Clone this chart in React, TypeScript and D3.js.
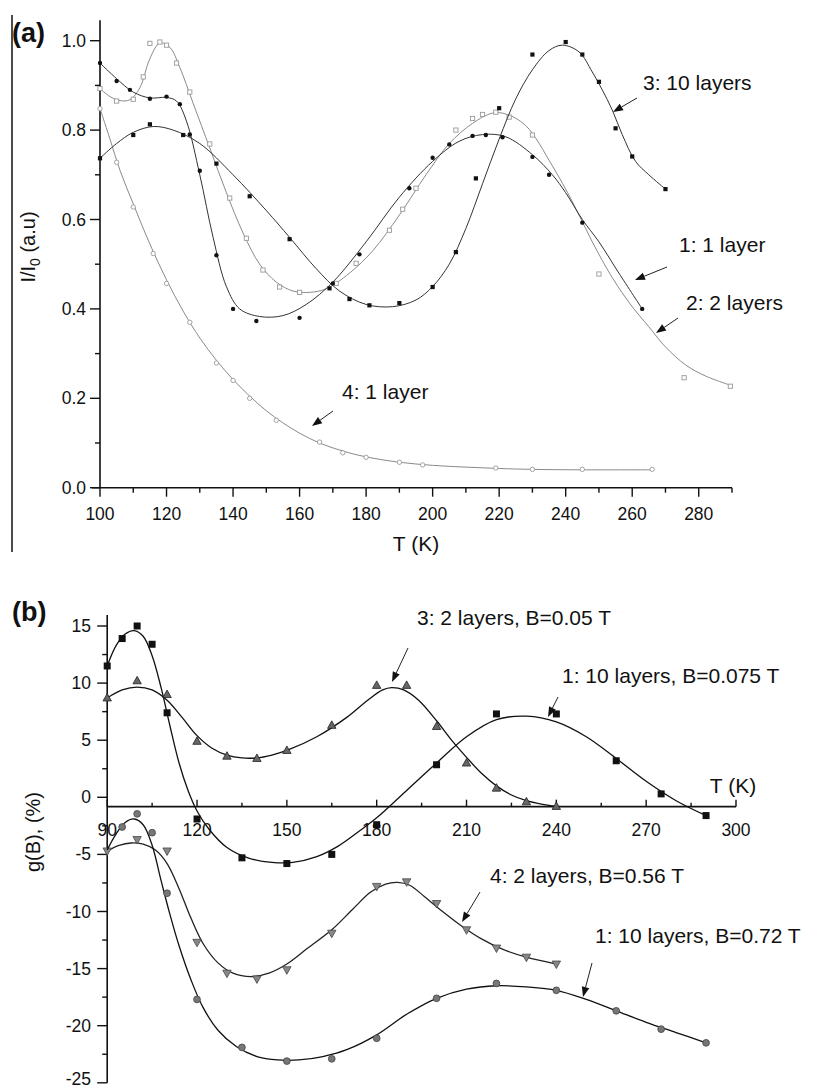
import * as d3 from 'd3'

// ---------------- panel (a) data: [T (K), I/I0] ----------------
const a1Points = [[100, 0.95], [105, 0.91], [109, 0.89], [115, 0.87], [120, 0.875], [124, 0.858], [127, 0.79], [130, 0.709], [135, 0.52], [140, 0.40], [147, 0.373], [160, 0.38], [170, 0.457], [178, 0.522], [193, 0.67], [200, 0.738], [205, 0.768], [212, 0.787], [216, 0.789], [221, 0.784], [230, 0.74], [235, 0.70], [245, 0.593], [263, 0.40]]
const a1Fit = [[100, 0.95], [105, 0.915], [110, 0.885], [115, 0.872], [120, 0.873], [123, 0.865], [126, 0.82], [130, 0.70], [134, 0.56], [138, 0.45], [142, 0.40], [148, 0.383], [155, 0.385], [162, 0.41], [170, 0.46], [180, 0.55], [190, 0.65], [200, 0.73], [208, 0.775], [215, 0.79], [222, 0.785], [230, 0.745], [236, 0.70], [240, 0.66], [245, 0.60], [250, 0.55], [256, 0.48], [263, 0.40]]

const a2Points = [[100, 0.893], [105, 0.865], [110, 0.869], [113, 0.919], [115, 0.994], [118, 0.997], [120, 0.99], [123, 0.95], [127, 0.885], [133, 0.769], [139, 0.648], [144, 0.558], [149, 0.487], [154, 0.449], [160, 0.437], [171, 0.457], [177, 0.502], [187, 0.576], [191, 0.623], [195, 0.67], [207, 0.80], [212, 0.826], [215, 0.835], [219, 0.84], [223, 0.829], [230, 0.789], [250, 0.478], [275.6, 0.246], [289.5, 0.227]]
const a2Fit = [[100, 0.893], [103, 0.875], [106, 0.866], [109, 0.868], [112, 0.895], [115, 0.96], [118, 0.995], [121, 0.985], [124, 0.94], [128, 0.86], [133, 0.76], [138, 0.66], [143, 0.57], [148, 0.50], [153, 0.46], [158, 0.44], [163, 0.437], [168, 0.445], [175, 0.48], [182, 0.53], [190, 0.61], [198, 0.70], [205, 0.77], [212, 0.815], [218, 0.838], [222, 0.836], [228, 0.81], [236, 0.72], [242, 0.64], [248, 0.55], [254, 0.47], [260, 0.405], [265, 0.36], [270, 0.315], [276, 0.275], [282, 0.25], [290, 0.228]]

const a3Points = [[100, 0.737], [110, 0.789], [115, 0.813], [125, 0.789], [135, 0.725], [145, 0.652], [157, 0.556], [169, 0.446], [175, 0.422], [181, 0.408], [190, 0.413], [200, 0.449], [207, 0.527], [213, 0.692], [220, 0.849], [230, 0.969], [240, 0.997], [245, 0.969], [250, 0.908], [255, 0.804], [260, 0.741], [270, 0.668]]
const a3Fit = [[100, 0.737], [105, 0.77], [110, 0.795], [116, 0.808], [122, 0.80], [130, 0.77], [140, 0.70], [150, 0.62], [157, 0.56], [165, 0.49], [172, 0.44], [180, 0.41], [188, 0.405], [195, 0.42], [200, 0.45], [205, 0.50], [210, 0.58], [215, 0.68], [220, 0.78], [225, 0.87], [230, 0.935], [235, 0.978], [239, 0.99], [244, 0.975], [248, 0.93], [251, 0.89], [254, 0.845], [257, 0.79], [261, 0.73], [265, 0.70], [270, 0.668]]

const a4Points = [[100, 0.848], [105, 0.728], [110, 0.628], [116, 0.524], [120, 0.457], [127, 0.370], [135, 0.279], [140, 0.240], [145, 0.200], [153, 0.151], [166, 0.102], [173, 0.078], [180, 0.068], [190, 0.057], [197, 0.051], [219, 0.044], [230, 0.041], [245, 0.041], [266, 0.041]]
const a4Fit = [[100, 0.848], [103, 0.78], [106, 0.71], [110, 0.635], [115, 0.545], [120, 0.465], [125, 0.395], [130, 0.335], [135, 0.285], [140, 0.242], [145, 0.205], [150, 0.172], [155, 0.145], [160, 0.122], [166, 0.10], [173, 0.082], [180, 0.069], [190, 0.057], [200, 0.05], [210, 0.046], [220, 0.043], [230, 0.041], [245, 0.040], [266, 0.040]]

const aYTicks = [0, 0.2, 0.4, 0.6, 0.8, 1.0]
const aYMinor = [0.1, 0.3, 0.5, 0.7, 0.9]
const aXTicks = [100, 120, 140, 160, 180, 200, 220, 240, 260, 280]
const aXMinor = [110, 130, 150, 170, 190, 210, 230, 250, 270, 290]

// ---------------- panel (b) data: [T (K), g(B) %] ----------------
const b1Points = [[90, 11.5], [95, 13.9], [100, 15.0], [105, 13.4], [110, 7.4], [120, -1.9], [135, -5.3], [150, -5.8], [165, -5.0], [180, -2.4], [200, 2.85], [220, 7.3], [240, 7.3], [260, 3.2], [275, 0.3], [290, -1.6]]
const b1Fit = [[90, 11.5], [93, 13.3], [96, 14.3], [99, 14.6], [102, 14.1], [105, 12.4], [108, 9.6], [111, 6.2], [114, 3.0], [117, 0.6], [120, -1.2], [124, -2.8], [130, -4.4], [137, -5.3], [145, -5.7], [152, -5.7], [160, -5.2], [167, -4.3], [174, -3.0], [180, -1.8], [190, 0.6], [200, 3.0], [210, 5.3], [220, 6.8], [230, 7.1], [240, 6.6], [250, 5.3], [260, 3.4], [270, 1.4], [280, -0.3], [290, -1.6]]

const b3Points = [[90, 8.7], [100, 10.2], [110, 9.0], [120, 4.9], [130, 3.6], [140, 3.4], [150, 4.1], [165, 6.3], [180, 9.8], [190, 9.8], [200, 6.2], [210, 3.0], [220, 0.8], [230, -0.4], [240, -0.8]]
const b3Fit = [[90, 8.7], [95, 9.4], [100, 9.65], [105, 9.4], [110, 8.5], [115, 7.0], [120, 5.4], [125, 4.3], [130, 3.7], [135, 3.45], [140, 3.45], [145, 3.7], [150, 4.1], [160, 5.3], [170, 7.0], [177, 8.5], [182, 9.4], [185, 9.6], [189, 9.4], [194, 8.5], [200, 6.7], [205, 5.0], [210, 3.5], [215, 2.1], [220, 1.0], [225, 0.2], [230, -0.3], [235, -0.6], [240, -0.8]]

const b4Points = [[90, -4.7], [100, -3.7], [110, -4.7], [120, -12.7], [130, -15.4], [140, -15.9], [150, -15.1], [165, -11.9], [180, -7.8], [190, -7.4], [200, -9.3], [210, -11.6], [220, -13.2], [230, -14.0], [240, -14.6]]
const b4Fit = [[90, -4.7], [94, -4.2], [98, -4.0], [102, -4.1], [106, -4.6], [110, -5.8], [114, -8.0], [118, -10.6], [122, -12.8], [127, -14.5], [132, -15.4], [138, -15.7], [144, -15.4], [150, -14.6], [157, -13.2], [165, -11.6], [172, -9.8], [178, -8.3], [183, -7.6], [187, -7.45], [191, -7.7], [196, -8.7], [202, -10.0], [208, -11.2], [215, -12.4], [222, -13.3], [230, -14.0], [240, -14.6]]

const b5Points = [[95, -2.6], [100, -1.45], [105, -3.1], [110, -8.4], [120, -17.7], [135, -21.9], [150, -23.1], [165, -22.9], [180, -21.1], [200, -17.6], [220, -16.3], [240, -16.9], [260, -18.7], [275, -20.3], [290, -21.5]]
const b5Fit = [[90, -4.6], [93, -3.2], [96, -2.2], [99, -1.9], [102, -2.4], [105, -4.2], [108, -7.3], [111, -10.3], [114, -13.0], [118, -16.0], [122, -18.4], [127, -20.4], [133, -21.8], [140, -22.7], [147, -23.0], [154, -23.0], [162, -22.7], [170, -22.1], [180, -20.8], [190, -19.0], [200, -17.6], [210, -16.8], [220, -16.5], [230, -16.6], [240, -16.9], [250, -17.7], [260, -18.7], [270, -19.7], [280, -20.6], [290, -21.5]]

const bYTicks = [15, 10, 5, 0, -5, -10, -15, -20, -25]
const bYMinor = [12.5, 7.5, 2.5, -2.5, -7.5, -12.5, -17.5, -22.5]
const bXTicks = [90, 120, 150, 180, 210, 240, 270, 300]
const bXMinor = [105, 135, 165, 195, 225, 255, 285]

const FONT = "'Liberation Sans', Arial, Helvetica, sans-serif"

const xA = d3.scaleLinear().domain([100, 290]).range([100, 732])
const yA = d3.scaleLinear().domain([0, 1]).range([487.7, 40.7])
const xB = d3.scaleLinear().domain([90, 300]).range([107.2, 736])
const yB = d3.scaleLinear().domain([0, 15]).range([797.3, 626])

const lineGen = (x, y) => d3.line().x(d => x(d[0])).y(d => y(d[1])).curve(d3.curveCatmullRom.alpha(0.5))

const Arrow = ({ x1, y1, x2, y2 }) => {
    const ang = Math.atan2(y2 - y1, x2 - x1)
    const L = 10, W = 3.8
    const bx = x2 - L * Math.cos(ang), by = y2 - L * Math.sin(ang)
    const px = -Math.sin(ang) * W, py = Math.cos(ang) * W
    return <g>
        <line x1={x1} y1={y1} x2={bx} y2={by} stroke="#222" strokeWidth={1} />
        <polygon points={`${x2},${y2} ${bx + px},${by + py} ${bx - px},${by - py}`} fill="#111" />
    </g>
}

const marker = (kind, cx, cy, key) => {
    switch (kind) {
        case 'dot': return <circle key={key} cx={cx} cy={cy} r={2.2} fill="#111" />
        case 'sqFill': return <rect key={key} x={cx - 2.1} y={cy - 2.1} width={4.2} height={4.2} fill="#111" />
        case 'sqOpen': return <rect key={key} x={cx - 2.1} y={cy - 2.1} width={4.2} height={4.2} fill="#fff" stroke="#999" strokeWidth={0.9} />
        case 'circOpen': return <circle key={key} cx={cx} cy={cy} r={2.2} fill="#fff" stroke="#999" strokeWidth={0.9} />
        case 'bSq': return <rect key={key} x={cx - 3.5} y={cy - 3.5} width={7} height={7} fill="#111" />
        case 'bTriUp': return <polygon key={key} points={`${cx},${cy - 4.5} ${cx - 4.2},${cy + 3} ${cx + 4.2},${cy + 3}`} fill="#666" stroke="#222" strokeWidth={0.8} />
        case 'bTriDown': return <polygon key={key} points={`${cx},${cy + 4.5} ${cx - 4.2},${cy - 3} ${cx + 4.2},${cy - 3}`} fill="#888" stroke="#444" strokeWidth={0.8} />
        case 'bCirc': return <circle key={key} cx={cx} cy={cy} r={3.4} fill="#777" stroke="#444" strokeWidth={0.8} />
    }
    return null
}

const Series = ({ fit, points, x, y, stroke, kind, width = 1 }) => (
    <g>
        <path d={lineGen(x, y)(fit)} fill="none" stroke={stroke} strokeWidth={width} />
        {points.map((p, i) => marker(kind, x(p[0]), y(p[1]), i))}
    </g>
)

const tickText = { fontFamily: FONT, fontSize: 17.5, fill: '#111' }
const annText = { fontFamily: FONT, fontSize: 21, fill: '#111' }

const PanelA = () => {
    const y0 = yA(0)
    return <g>
        <line x1={12} y1={15} x2={12} y2={552} stroke="#111" strokeWidth={1.5} />
        <text x={12} y={42} fontFamily={FONT} fontWeight="bold" fontSize={27} fill="#111">(a)</text>
        {/* axes */}
        <line x1={xA(100)} y1={yA(1.046)} x2={xA(100)} y2={y0} stroke="#111" strokeWidth={1.6} />
        <line x1={92} y1={y0} x2={xA(290)} y2={y0} stroke="#111" strokeWidth={1.6} />
        {aYTicks.map(t => <g key={t}>
            <line x1={xA(100) - 10} x2={xA(100)} y1={yA(t)} y2={yA(t)} stroke="#111" strokeWidth={1.4} />
            <text x={86} y={yA(t) + 6} textAnchor="end" {...tickText}>{t.toFixed(1)}</text>
        </g>)}
        {aYMinor.map(t => <line key={t} x1={xA(100) - 5} x2={xA(100)} y1={yA(t)} y2={yA(t)} stroke="#111" strokeWidth={1.4} />)}
        {aXTicks.map(t => <g key={t}>
            <line x1={xA(t)} x2={xA(t)} y1={y0} y2={y0 + 9} stroke="#111" strokeWidth={1.4} />
            <text x={xA(t)} y={520} textAnchor="middle" {...tickText}>{t}</text>
        </g>)}
        {aXMinor.map(t => <line key={t} x1={xA(t)} x2={xA(t)} y1={y0} y2={y0 + 5} stroke="#111" strokeWidth={1.4} />)}
        <text x={416} y={551} textAnchor="middle" fontFamily={FONT} fontSize={21} fill="#111">T (K)</text>
        <text transform="translate(35,247) rotate(-90)" textAnchor="middle" fontFamily={FONT} fontSize={20} fill="#111">
            I/I<tspan fontSize={14} dy={5}>0</tspan><tspan dy={-5}> (a.u)</tspan>
        </text>
        {/* data */}
        <Series fit={a4Fit} points={a4Points} x={xA} y={yA} stroke="#8a8a8a" kind="circOpen" />
        <Series fit={a2Fit} points={a2Points} x={xA} y={yA} stroke="#8a8a8a" kind="sqOpen" />
        <Series fit={a3Fit} points={a3Points} x={xA} y={yA} stroke="#333" kind="sqFill" />
        <Series fit={a1Fit} points={a1Points} x={xA} y={yA} stroke="#333" kind="dot" />
        {/* annotations */}
        <text x={643} y={90} {...annText}>3: 10 layers</text>
        <Arrow x1={637} y1={98} x2={613} y2={112} />
        <text x={679} y={252} {...annText}>1: 1 layer</text>
        <Arrow x1={667} y1={267} x2={635} y2={280} />
        <text x={686} y={310} {...annText}>2: 2 layers</text>
        <Arrow x1={678} y1={318} x2={656} y2={333} />
        <text x={342} y={399} {...annText}>4: 1 layer</text>
        <Arrow x1={333} y1={411} x2={312} y2={426} />
    </g>
}

const PanelB = () => {
    const xAxisY = yB(-0.82)
    const x0 = xB(90)
    return <g>
        <text x={12} y={621} fontFamily={FONT} fontWeight="bold" fontSize={27} fill="#111">(b)</text>
        <line x1={x0} y1={615} x2={x0} y2={yB(-25)} stroke="#111" strokeWidth={1.6} />
        <line x1={x0} y1={xAxisY} x2={xB(300)} y2={xAxisY} stroke="#111" strokeWidth={1.6} />
        {bYTicks.map(t => <g key={t}>
            <line x1={x0 - 10} x2={x0} y1={yB(t)} y2={yB(t)} stroke="#111" strokeWidth={1.4} />
            <text x={91} y={Math.min(yB(t) + 6, 1085)} textAnchor="end" {...tickText}>{t}</text>
        </g>)}
        {bYMinor.map(t => <line key={t} x1={x0 - 5} x2={x0} y1={yB(t)} y2={yB(t)} stroke="#111" strokeWidth={1.4} />)}
        {bXTicks.map(t => <g key={t}>
            <line x1={xB(t)} x2={xB(t)} y1={xAxisY} y2={xAxisY - 7} stroke="#111" strokeWidth={1.4} />
            <text x={xB(t)} y={836} textAnchor="middle" {...tickText}>{t}</text>
        </g>)}
        {bXMinor.map(t => <line key={t} x1={xB(t)} x2={xB(t)} y1={xAxisY} y2={xAxisY - 4} stroke="#111" strokeWidth={1.4} />)}
        <text x={733} y={793} textAnchor="middle" fontFamily={FONT} fontSize={21} fill="#111">T (K)</text>
        <text transform="translate(40,832) rotate(-90)" textAnchor="middle" fontFamily={FONT} fontSize={20} fill="#111">g(B), (%)</text>
        {/* data */}
        <Series fit={b1Fit} points={b1Points} x={xB} y={yB} stroke="#111" kind="bSq" width={1.3} />
        <Series fit={b3Fit} points={b3Points} x={xB} y={yB} stroke="#111" kind="bTriUp" width={1.3} />
        <Series fit={b4Fit} points={b4Points} x={xB} y={yB} stroke="#222" kind="bTriDown" width={1.3} />
        <Series fit={b5Fit} points={b5Points} x={xB} y={yB} stroke="#111" kind="bCirc" width={1.3} />
        {/* annotations */}
        <text x={417} y={625} {...annText}>3: 2 layers, B=0.05 T</text>
        <Arrow x1={408} y1={648} x2={392} y2={682} />
        <text x={562} y={683} {...annText}>1: 10 layers, B=0.075 T</text>
        <Arrow x1={558} y1={697} x2={548} y2={717} />
        <text x={490} y={883} {...annText}>4: 2 layers, B=0.56 T</text>
        <Arrow x1={480} y1={892} x2={462} y2={922} />
        <text x={595} y={943} {...annText}>1: 10 layers, B=0.72 T</text>
        <Arrow x1={592} y1={963} x2={583} y2={997} />
    </g>
}

export default function App() {
    return (
        <svg width={815} height={1089} style={{ position: 'absolute', left: 0, top: 0, background: '#fff' }}>
            <rect width={815} height={1089} fill="#fff" />
            <PanelA />
            <PanelB />
        </svg>
    )
}
